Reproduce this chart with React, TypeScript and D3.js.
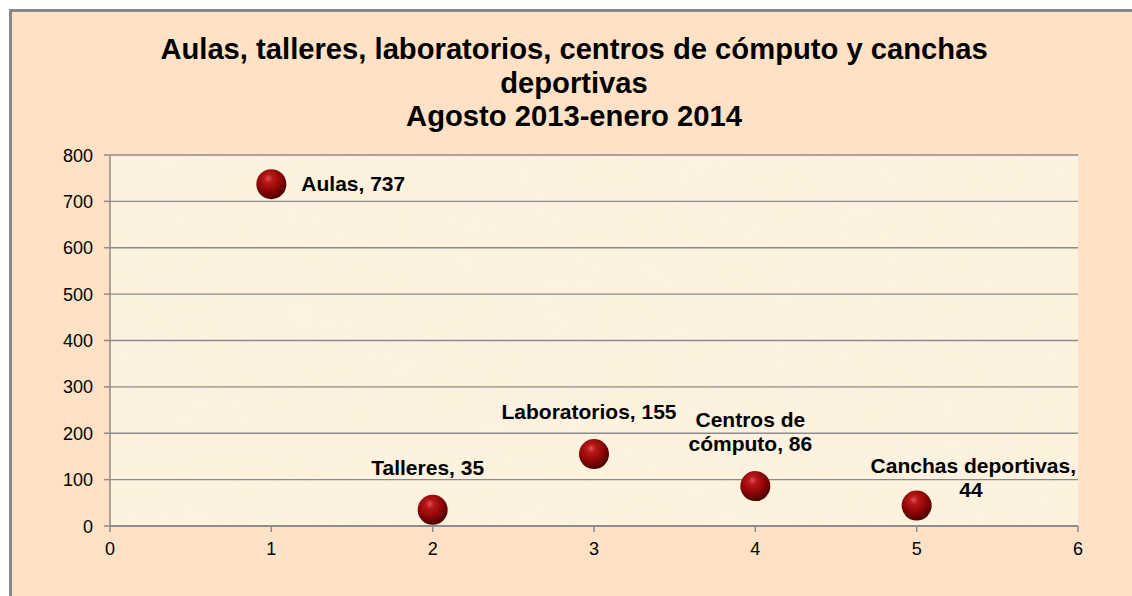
import React from "react";
import * as d3 from "d3";

const categories = ["Aulas", "Talleres", "Laboratorios", "Centros de cómputo", "Canchas deportivas"];
const xValues = [1, 2, 3, 4, 5];
const yValues = [737, 35, 155, 86, 44];
const labelBreakAfterWords = [0, 0, 0, 2, 2];
const labelPlacement = ["right", "above", "above", "above", "aboveRight"];
const xTicks = [0, 1, 2, 3, 4, 5, 6];
const yTicks = [0, 100, 200, 300, 400, 500, 600, 700, 800];
const titleLines = [
  "Aulas, talleres, laboratorios, centros de cómputo y canchas",
  "deportivas",
  "Agosto 2013-enero 2014",
];

const W = 1132;
const H = 596;
const FONT = "'Liberation Sans', Arial, Helvetica, sans-serif";
const plot = { left: 110, right: 1078, top: 155, bottom: 526 };
const R = 15;
const LABEL_SIZE = 21;
const LINE_H = 24;

function splitLabel(text: string, after: number): string[] {
  if (!after) return [text];
  const words = text.split(" ");
  return [words.slice(0, after).join(" "), words.slice(after).join(" ")];
}

export default function App() {
  const x = d3.scaleLinear().domain([0, 6]).range([plot.left, plot.right]);
  const y = d3.scaleLinear().domain([0, 800]).range([plot.bottom, plot.top]);

  const points = categories.map((c, i) => ({
    cat: c,
    cx: x(xValues[i]),
    cy: y(yValues[i]),
    lines: splitLabel(`${c}, ${yValues[i]}`, labelBreakAfterWords[i]),
    place: labelPlacement[i],
  }));

  return (
    <svg
      width={W}
      height={H}
      style={{ position: "absolute", left: 0, top: 0, display: "block" }}
      fontFamily={FONT}
    >
      <defs>
        <radialGradient id="sphere" cx="42%" cy="36%" r="64%" fx="40%" fy="30%">
          <stop offset="0%" stopColor="#e0534f" />
          <stop offset="22%" stopColor="#b81818" />
          <stop offset="62%" stopColor="#8e0505" />
          <stop offset="100%" stopColor="#4a0000" />
        </radialGradient>
        <filter id="paper" x="0" y="0" width="100%" height="100%">
          <feTurbulence type="fractalNoise" baseFrequency="0.012 0.02" numOctaves="3" seed="4" result="n" />
          <feColorMatrix
            in="n"
            type="matrix"
            values="0 0 0 0 0.93  0 0 0 0 0.86  0 0 0 0 0.66  0 0 0 0.35 -0.08"
            result="c"
          />
          <feComposite in="c" in2="SourceGraphic" operator="in" />
        </filter>
      </defs>
      <rect x={0} y={0} width={W} height={H} fill="#ffffff" />
      <rect x={10.5} y={10.5} width={1145} height={620} fill="#ffe2c5" stroke="#888888" strokeWidth={3} />

      {titleLines.map((t, i) => (
        <text
          key={i}
          x={574}
          y={59 + i * 33.5}
          textAnchor="middle"
          fontSize={29.2}
          fontWeight="bold"
          fill="#000"
        >
          {t}
        </text>
      ))}

      <rect
        x={plot.left}
        y={plot.top}
        width={plot.right - plot.left}
        height={plot.bottom - plot.top}
        fill="#fcf2df"
      />
      <rect
        x={plot.left}
        y={plot.top}
        width={plot.right - plot.left}
        height={plot.bottom - plot.top}
        fill="#fff"
        filter="url(#paper)"
        opacity={0.6}
      />

      {yTicks.map((t) => (
        <g key={t}>
          {t > 0 && (
            <line x1={plot.left} x2={plot.right} y1={y(t)} y2={y(t)} stroke="#8c8c8c" strokeWidth={1.3} />
          )}
          <line x1={plot.left - 6} x2={plot.left} y1={y(t)} y2={y(t)} stroke="#8c8c8c" strokeWidth={1.5} />
          <text x={93} y={y(t) + 6.5} textAnchor="end" fontSize={18} fill="#000">
            {t}
          </text>
        </g>
      ))}
      <line x1={plot.left} x2={plot.left} y1={plot.top} y2={plot.bottom} stroke="#8c8c8c" strokeWidth={1.5} />
      <line x1={plot.left} x2={plot.right} y1={plot.bottom} y2={plot.bottom} stroke="#8c8c8c" strokeWidth={1.8} />
      {xTicks.map((t) => (
        <g key={t}>
          <line x1={x(t)} x2={x(t)} y1={plot.bottom} y2={plot.bottom + 6} stroke="#8c8c8c" strokeWidth={1.5} />
          <text x={x(t)} y={555} textAnchor="middle" fontSize={18} fill="#000">
            {t}
          </text>
        </g>
      ))}

      {points.map((p, i) => (
        <g key={i}>
          <circle cx={p.cx} cy={p.cy} r={R} fill="url(#sphere)" />
        </g>
      ))}

      {points.map((p, i) => {
        let tx = p.cx - 5;
        let anchor: "start" | "middle" | "end" = "middle";
        let lastBaseline = p.cy - 35;
        if (p.place === "right") {
          tx = p.cx + R + 15;
          anchor = "start";
          lastBaseline = p.cy + 7;
        } else if (p.place === "aboveRight") {
          tx = plot.right - 2;
          anchor = "end";
          lastBaseline = p.cy - 9;
        }
        const n = p.lines.length;
        return (
          <text
            key={i}
            x={tx}
            textAnchor={anchor}
            fontSize={LABEL_SIZE}
            fontWeight="bold"
            fill="#000"
          >
            {p.lines.map((l, j) => (
              <tspan
                key={j}
                x={p.place === "aboveRight" ? (j === 0 ? tx : 971) : tx}
                textAnchor={p.place === "aboveRight" && j > 0 ? "middle" : anchor}
                y={lastBaseline - (n - 1 - j) * LINE_H}
              >
                {l}
              </tspan>
            ))}
          </text>
        );
      })}
    </svg>
  );
}
